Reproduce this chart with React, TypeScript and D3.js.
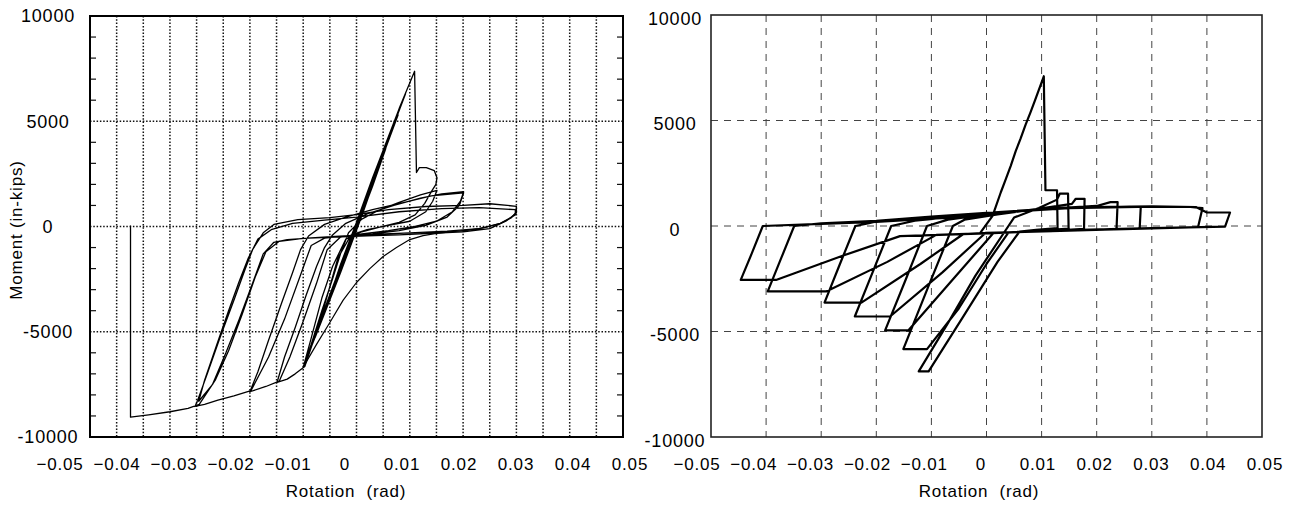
import React from 'react';
import * as d3 from 'd3';

type Pt = [number, number];

// ---- axis labels / ticks ----
const xTickValues = [-0.05, -0.04, -0.03, -0.02, -0.01, 0, 0.01, 0.02, 0.03, 0.04, 0.05];
const yTickValues = [10000, 5000, 0, -5000, -10000];
const leftGridX = [-0.045, -0.04, -0.035, -0.03, -0.025, -0.02, -0.015, -0.01, -0.005, 0, 0.005, 0.01, 0.015, 0.02, 0.025, 0.03, 0.035, 0.04, 0.045];
const rightGridX = [-0.04, -0.03, -0.02, -0.01, 0, 0.01, 0.02, 0.03, 0.04];
const gridY = [5000, 0, -5000];
const leftMinorY = [-9000, -8000, -7000, -6000, -4000, -3000, -2000, -1000, 1000, 2000, 3000, 4000, 6000, 7000, 8000, 9000];
const xTitle = 'Rotation  (rad)';
const yTitle = 'Moment (in-kips)';

// ---- left panel: test record (rotation, moment) ----
const leftLoadPath: Pt[] = [
  [0, 0], [0.003, 2000], [0.0055, 3700], [0.003, 1900], [0, -100], [-0.003, -2100], [-0.0055, -3700], [-0.003, -1800],
  [0, 200], [0.004, 2900], [0.0078, 5300], [0.005, 3400], [0.001, 500], [-0.003, -2200], [-0.0078, -5300], [-0.005, -3300],
  [0, 150], [0.005, 3500], [0.0092, 6300], [0.006, 4200], [0.001, 700], [-0.004, -2800], [-0.0099, -6650], [-0.007, -4600],
  [-0.002, -1200], [0.003, 2300], [0.008, 5600], [0.0109, 7375],
  [0.01125, 2565], [0.0118, 2800], [0.0131, 2800], [0.0146, 2650], [0.0151, 2320], [0.0149, 2000], [0.0141, 1680],
  [0.0128, 1100], [0.011, 550], [0.008, 200], [0.004, -50], [0.001, -250], [-0.002, -600], [-0.0045, -1900], [-0.0065, -3400], [-0.0085, -5300], [-0.01, -6700],
  [-0.0085, -5600], [-0.0065, -4000], [-0.0045, -2500], [-0.003, -1300], [-0.0015, -300], [0.001, 350], [0.004, 750], [0.008, 1150], [0.012, 1500], [0.0151, 1720],
  [0.0143, 1200], [0.013, 700], [0.01, 250], [0.006, 50], [0.002, -150], [-0.001, -400], [-0.0035, -1500], [-0.0055, -3300], [-0.0075, -5000], [-0.0097, -6650], [-0.0115, -7000], [-0.013, -7250], [-0.0149, -7400],
  [-0.0135, -6200], [-0.0115, -4800], [-0.0095, -3300], [-0.0075, -1900], [-0.006, -1000], [-0.0045, -400], [-0.002, 150], [0.002, 600], [0.007, 1000], [0.012, 1350], [0.016, 1550], [0.0201, 1650],
  [0.0195, 1200], [0.018, 700], [0.015, 250], [0.011, 0], [0.006, -200], [0.001, -350], [-0.003, -500], [-0.0055, -1100], [-0.0075, -2700], [-0.01, -4500], [-0.0125, -6200], [-0.0145, -7350], [-0.017, -7600], [-0.02, -7850],
  [-0.0185, -6900], [-0.0165, -5400], [-0.014, -3600], [-0.012, -2200], [-0.0105, -1100], [-0.009, -450], [-0.006, 100], [-0.002, 450], [0.003, 800], [0.009, 1150], [0.014, 1450], [0.0201, 1600],
  [0.0193, 1000], [0.017, 450], [0.013, 50], [0.008, -200], [0.003, -350], [-0.002, -450], [-0.006, -550], [-0.0085, -900], [-0.0105, -2300], [-0.0135, -4400], [-0.0165, -6200], [-0.0198, -7800], [-0.023, -8050], [-0.026, -8250], [-0.0285, -8450], [-0.0303, -8550],
  [-0.0298, -8250], [-0.028, -7000], [-0.0255, -5200], [-0.023, -3500], [-0.021, -2100], [-0.0195, -1100], [-0.0175, -300], [-0.0155, 100], [-0.011, 330], [-0.005, 420], [0, 560], [0.006, 800], [0.013, 950], [0.02, 1000], [0.025, 1080], [0.03, 960],
  [0.03, 640], [0.028, 250], [0.025, -100], [0.02, -250], [0.014, -320], [0.008, -400], [0.002, -450], [-0.004, -500], [-0.009, -550], [-0.013, -620], [-0.0155, -750], [-0.0175, -1300], [-0.0195, -2700], [-0.022, -4400], [-0.0245, -6000], [-0.027, -7500], [-0.0296, -8300],
  [-0.0285, -7300], [-0.0262, -5600], [-0.024, -4000], [-0.022, -2600], [-0.0203, -1500], [-0.0185, -600], [-0.016, -150], [-0.012, 150], [-0.006, 300], [0, 450], [0.008, 700], [0.016, 850], [0.023, 900], [0.0298, 800],
  [0.0298, 550], [0.027, 150], [0.023, -100], [0.017, -220], [0.01, -300], [0.003, -380], [-0.004, -470], [-0.01, -560], [-0.0145, -700], [-0.017, -1200], [-0.019, -2400], [-0.0215, -4200], [-0.024, -5900], [-0.0265, -7300], [-0.0295, -8450],
  [-0.0316, -8645], [-0.035, -8800], [-0.039, -8950], [-0.0424, -9060], [-0.0424, 50],
];

const leftSoftBranch: Pt[] = [
  [-0.01, -6680], [-0.0075, -5600], [-0.005, -4560], [-0.0025, -3500], [0, -2660], [0.0025, -2000], [0.005, -1425], [0.0075, -1000],
  [0.01, -620], [0.0125, -430], [0.015, -330], [0.018, -240], [0.021, -170], [0.024, -60], [0.027, 150], [0.029, 400], [0.03, 700],
];

// ---- right panel: analysis record (rotation, moment) ----
const rightLoadPath: Pt[] = [
  [-0.0012, -350], [0.0011, 484], [0.0026, 1600], [0.0034, 2150], [0.0044, 2850], [0.0053, 3550], [0.0062, 4150], [0.0071, 4800], [0.008, 5400], [0.0088, 5950], [0.0095, 6450], [0.0104, 7097],
  [0.0107, 1694], [0.0128, 1694], [0.0129, -100],
  [0.009, -180], [0.006, -260], [0.002, -1700], [-0.004, -4200], [-0.0105, -6890], [-0.0123, -6890],
  [-0.007, -4600], [-0.002, -2350], [0.0035, -190], [0.005, 400], [0.0095, 850], [0.0128, 1250], [0.0133, 1530], [0.0148, 1530], [0.0149, -120],
  [0.009, -230], [0.004, -300], [0, -1800], [-0.005, -3900], [-0.0108, -5835], [-0.0151, -5835],
  [-0.0106, -2900], [-0.0061, 0], [-0.004, 300], [0.002, 550], [0.009, 800], [0.0155, 1050], [0.0162, 1290], [0.0178, 1290], [0.0177, -140],
  [0.01, -250], [0.0013, -320], [-0.006, -2500], [-0.0142, -4950], [-0.0184, -4950],
  [-0.0146, -2500], [-0.0108, 0], [-0.007, 300], [0, 550], [0.01, 800], [0.02, 950], [0.0225, 1130], [0.0238, 1130], [0.0236, -130],
  [0.012, -250], [-0.0002, -330], [-0.008, -2200], [-0.0175, -4290], [-0.0239, -4290],
  [-0.0206, -2150], [-0.0173, 0], [-0.013, 250], [-0.005, 450], [0.005, 700], [0.015, 850], [0.026, 920], [0.028, 920], [0.0278, -120],
  [0.015, -220], [0, -330], [-0.0042, -380], [-0.012, -1800], [-0.0227, -3630], [-0.0294, -3630],
  [-0.0266, -1800], [-0.0238, 0], [-0.02, 200], [-0.01, 400], [0, 600], [0.015, 850], [0.03, 920], [0.037, 900], [0.0392, 850], [0.0384, -50],
  [0.025, -150], [0.01, -250], [-0.005, -380], [-0.0091, -420], [-0.018, -1700], [-0.0291, -3100], [-0.0397, -3100],
  [-0.0373, -1550], [-0.0349, 0], [-0.03, 120], [-0.02, 250], [-0.01, 450], [0, 620], [0.015, 880], [0.03, 930], [0.038, 900], [0.04, 640], [0.0442, 640], [0.0433, -30],
  [0.03, -100], [0.015, -200], [0, -350], [-0.0157, -480], [-0.026, -1400], [-0.0382, -2555], [-0.0446, -2555],
  [-0.0426, -1300], [-0.0406, 0], [-0.03, 100], [-0.02, 200], [-0.01, 350], [0, 480],
];

const FONT = '"Liberation Sans", Arial, Helvetica, sans-serif';
const fmtX = (v: number) => (v === 0 ? '0' : d3.format('.2f')(v));

export default function App() {
  // left panel scales
  const lx = d3.scaleLinear().domain([-0.05, 0.05]).range([90, 623]);
  const ly = d3.scaleLinear().domain([-10000, 10000]).range([437, 16]);
  const lLabelX = d3.scaleLinear().domain([-0.05, 0.05]).range([60, 630]);
  // right panel scales
  const rx = d3.scaleLinear().domain([-0.05, 0.05]).range([711, 1262]);
  const ry = d3.scaleLinear().domain([-10000, 10000]).range([437, 15]);
  const rLabelX = d3.scaleLinear().domain([-0.05, 0.05]).range([697, 1265]);

  const lLine = d3.line<Pt>().x((d) => lx(d[0])).y((d) => ly(d[1]));
  const rLine = d3.line<Pt>().x((d) => rx(d[0])).y((d) => ry(d[1]));

  const labelStyle: React.CSSProperties = { fontFamily: FONT, letterSpacing: '0.8px' };

  return (
    <svg width={1297} height={506} style={{ position: 'absolute', left: 0, top: 0, background: '#fff' }}>
      {/* ===== LEFT PANEL ===== */}
      <g>
        {leftGridX.map((v) => (
          <line key={'lgx' + v} x1={lx(v)} x2={lx(v)} y1={ly(10000)} y2={ly(-10000)} stroke="#111" strokeWidth={1.5} strokeDasharray="1.5,1.8" />
        ))}
        {gridY.map((v) => (
          <line key={'lgy' + v} x1={lx(-0.05)} x2={lx(0.05)} y1={ly(v)} y2={ly(v)} stroke="#111" strokeWidth={1.5} strokeDasharray="1.5,1.8" />
        ))}
        {leftMinorY.map((v) => (
          <g key={'lmt' + v}>
            <line x1={lx(-0.05)} x2={lx(-0.05) + 6} y1={ly(v)} y2={ly(v)} stroke="#111" strokeWidth={1.2} />
            <line x1={lx(0.05)} x2={lx(0.05) - 6} y1={ly(v)} y2={ly(v)} stroke="#111" strokeWidth={1.2} />
          </g>
        ))}
        <path d={lLine(leftSoftBranch) || ''} fill="none" stroke="#000" strokeWidth={1.2} strokeLinejoin="round" />
        <path d={lLine(leftLoadPath) || ''} fill="none" stroke="#000" strokeWidth={1.3} strokeLinejoin="round" />
        <rect x={lx(-0.05)} y={ly(10000)} width={lx(0.05) - lx(-0.05)} height={ly(-10000) - ly(10000)} fill="none" stroke="#000" strokeWidth={2} />
        {yTickValues.map((v) => (
          <text key={'lyt' + v} x={48} y={ly(v)} dy="0.36em" textAnchor="middle" fontSize={18} style={labelStyle}>
            {String(v)}
          </text>
        ))}
        {xTickValues.map((v) => (
          <text key={'lxt' + v} x={lLabelX(v)} y={470} textAnchor="middle" fontSize={17} style={labelStyle}>
            {fmtX(v)}
          </text>
        ))}
        <text x={346} y={497} textAnchor="middle" fontSize={17} style={{ ...labelStyle, whiteSpace: 'pre' }}>
          {xTitle}
        </text>
        <text transform="translate(22,230) rotate(-90)" textAnchor="middle" fontSize={17} style={{ ...labelStyle, whiteSpace: 'pre' }}>
          {yTitle}
        </text>
      </g>

      {/* ===== RIGHT PANEL ===== */}
      <g>
        {rightGridX.map((v) => (
          <line key={'rgx' + v} x1={rx(v)} x2={rx(v)} y1={ry(10000)} y2={ry(-10000)} stroke="#444" strokeWidth={1} strokeDasharray="7,6" />
        ))}
        {gridY.map((v) => (
          <line key={'rgy' + v} x1={rx(-0.05)} x2={rx(0.05)} y1={ry(v)} y2={ry(v)} stroke="#444" strokeWidth={1} strokeDasharray="7,6" />
        ))}
        <path d={rLine(rightLoadPath) || ''} fill="none" stroke="#000" strokeWidth={2.2} strokeLinejoin="round" />
        <rect x={rx(-0.05)} y={ry(10000)} width={rx(0.05) - rx(-0.05)} height={ry(-10000) - ry(10000)} fill="none" stroke="#222" strokeWidth={1.6} />
        {yTickValues.map((v) => (
          <text key={'ryt' + v} x={675} y={ry(v) + 3.5} dy="0.36em" textAnchor="middle" fontSize={18} style={labelStyle}>
            {String(v)}
          </text>
        ))}
        {xTickValues.map((v) => (
          <text key={'rxt' + v} x={rLabelX(v)} y={470} textAnchor="middle" fontSize={17} style={labelStyle}>
            {fmtX(v)}
          </text>
        ))}
        <text x={979} y={497} textAnchor="middle" fontSize={17} style={{ ...labelStyle, whiteSpace: 'pre' }}>
          {xTitle}
        </text>
      </g>
    </svg>
  );
}
